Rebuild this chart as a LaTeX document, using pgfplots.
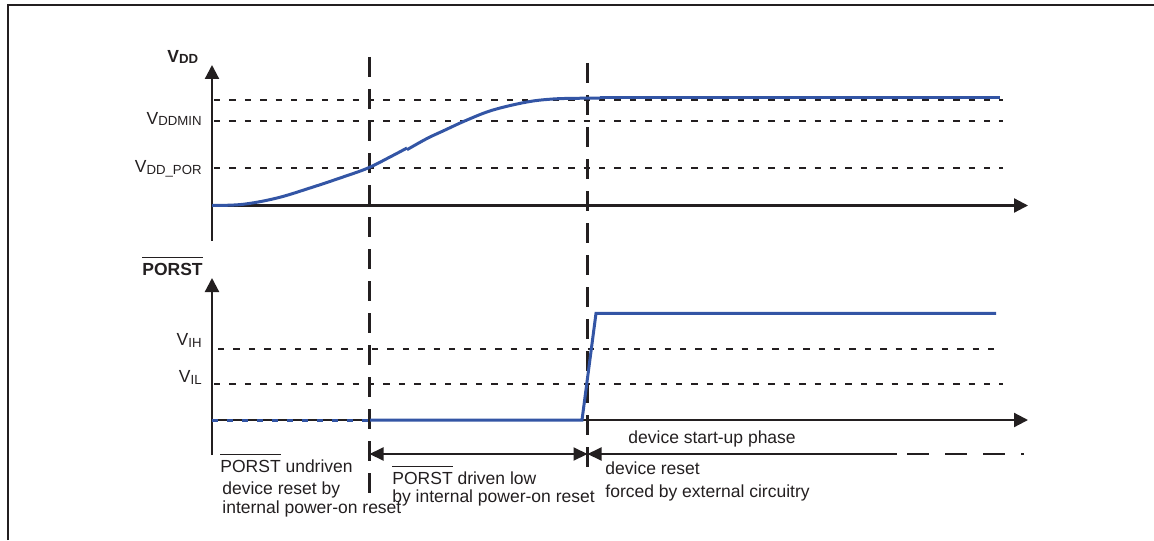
\documentclass[border=0pt]{standalone}
\usepackage{pgfplots}
\pgfplotsset{compat=1.18}
\usetikzlibrary{arrows.meta}
\usepackage{fontspec}
\setmainfont{Liberation Sans}
\definecolor{ink}{RGB}{35,31,32}
\definecolor{sig}{RGB}{51,85,165}
\newcommand\f{\fontsize{8.75}{10.5}\selectfont}
\newcommand\sub[1]{\raisebox{-1pt}{\fontsize{6.6}{7}\selectfont #1}}
\newcommand\ovl[1]{\vbox{\hrule height 0.7pt\kern 2.3pt\hbox{#1}}}
\tikzset{
  ax/.style={ink, line width=1.1pt, -{Triangle[length=7pt,width=7pt]}},
  lvl/.style={ink, line width=0.9pt, dash pattern=on 3.2pt off 4.5pt},
  txt/.style={anchor=base west, inner sep=0pt, text=ink, font=\f},
  lab/.style={anchor=base east, inner sep=0pt, text=ink, font=\f},
}
\begin{document}
\begin{tikzpicture}
\path[use as bounding box] (0,0) rectangle (577pt,-270pt);
% frame
\draw[ink, line width=1pt] (3.75pt,-270pt) -- (3.75pt,-2.5pt) -- (577pt,-2.5pt);
% vertical phase markers
\begin{scope}[x=0.5pt,y=-0.5pt]
\draw[ink, line width=1.1pt, dash pattern=on 10pt off 6pt] (369.5,57) -- (369.5,495);
\draw[ink, line width=1.1pt, dash pattern=on 10pt off 6pt] (587.5,63) -- (587.5,475);
\end{scope}

% ---------- upper axis: VDD ----------
\begin{axis}[hide axis, scale only axis, clip=false,
  at={(106pt,-120.25pt)}, anchor=south west,
  width=408pt, height=87.75pt,
  xmin=0, xmax=816, ymin=-35, ymax=140.5, enlargelimits=false]
  \draw[ax] (axis cs:0,-35) -- (axis cs:0,140.5);
  \draw[ax] (axis cs:0,0) -- (axis cs:816,0);
  \addplot[lvl] coordinates {(2,105.5) (791,105.5)};
  \addplot[lvl] coordinates {(2,84.8) (791,84.8)};
  \addplot[lvl] coordinates {(2,37.2) (791,37.2)};
  \addplot[sig, line width=1.5pt, smooth, tension=0.6] coordinates {
    (0,0) (31,1.2) (65,7.5) (98,17.5) (131,28.5) (156,37.5) (178,48.5) (195,57.5)};
  \addplot[sig, line width=1.5pt, smooth, tension=0.6] coordinates {
    (195,55.8) (215,67) (231,74.5) (255,85.5) (281,95.5) (315,103.5) (341,106.5) (365,107.2) (388,107.5)};
  \addplot[sig, line width=1.5pt] coordinates {(388,107.5) (788,107.5)};
\end{axis}

% ---------- lower axis: PORST ----------
\begin{axis}[hide axis, scale only axis, clip=false,
  at={(106pt,-227.5pt)}, anchor=south west,
  width=408pt, height=88.5pt,
  xmin=0, xmax=816, ymin=-35, ymax=142, enlargelimits=false]
  \draw[ax] (axis cs:0,-35) -- (axis cs:0,142);
  \draw[ax] (axis cs:0,0) -- (axis cs:816,0);
  \addplot[lvl] coordinates {(6,71) (791,71)};
  \addplot[lvl] coordinates {(2,36) (791,36)};
  \addplot[sig, line width=1.5pt, dash pattern=on 3pt off 4.5pt] coordinates {(0,0) (158,0)};
  \addplot[sig, line width=1.5pt] coordinates {(158,0) (370,0) (384,106.7) (784,106.7)};
\end{axis}

\begin{scope}[x=0.5pt,y=-0.5pt]
% phase arrows
\draw[ink, line width=1pt, {Triangle[length=7pt,width=6.5pt]}-{Triangle[length=7pt,width=6.5pt]}] (369.5,454) -- (587.5,454);
\draw[ink, line width=1pt, {Triangle[length=7pt,width=6.5pt]}-] (587.5,454) -- (897,454);
\draw[ink, line width=1pt, dash pattern=on 11pt off 8pt] (907,454) -- (1024,454);
% axis titles and levels
\node[txt] at (167,62) {\textbf{V\sub{DD}}};
\node[lab] at (202,124) {V\sub{DDMIN}};
\node[lab] at (202,172) {V\sub{DD\_POR}};
\node[txt] at (142,275) {\textbf{\ovl{PORST}}};
\node[lab] at (202,345) {V\sub{IH}};
\node[lab] at (202,382) {V\sub{IL}};
% phase texts
\node[txt] at (628,443) {device start-up phase};
\node[txt] at (220,472) {\ovl{PORST} undriven};
\node[txt] at (222,494) {device reset by};
\node[txt] at (222,513) {internal power-on reset};
\node[txt] at (392,484) {\ovl{PORST} driven low};
\node[txt] at (392,502) {by internal power-on reset};
\node[txt] at (605,474) {device reset};
\node[txt] at (605,497) {forced by external circuitry};
\end{scope}
\end{tikzpicture}
\end{document}
